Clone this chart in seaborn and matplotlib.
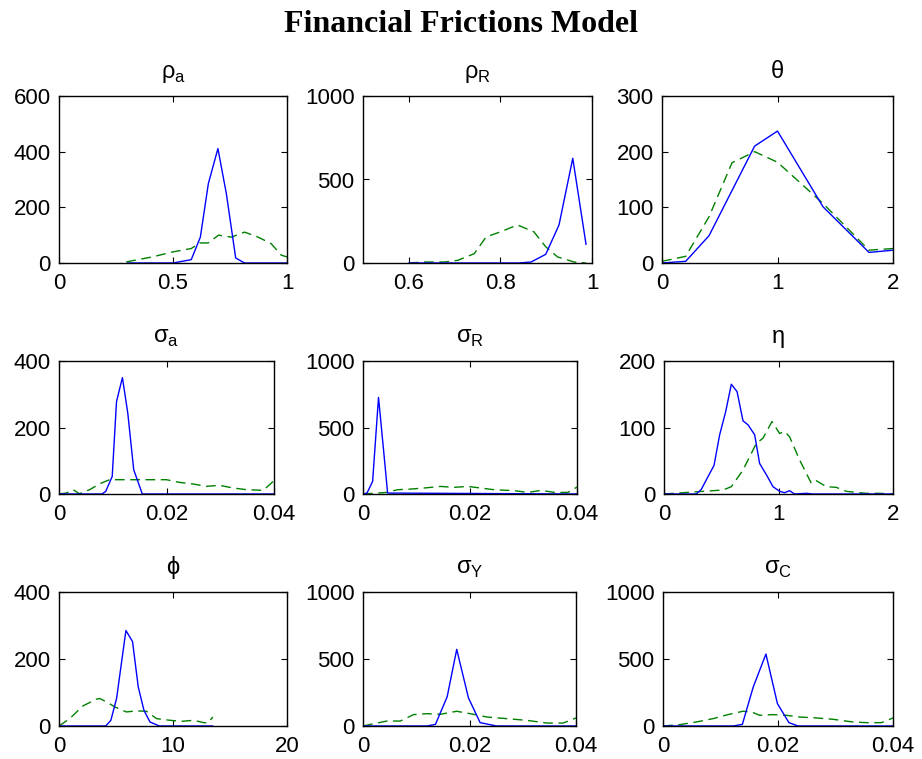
import numpy as np
import pandas as pd
import seaborn as sns
import matplotlib
matplotlib.use("Agg")
import matplotlib.pyplot as plt

# Posterior (blue, solid) and prior (green, dashed) densities
rho_a_post_x = [0.3, 0.5, 0.58, 0.62, 0.655, 0.697, 0.734, 0.775, 0.814, 1.0]
rho_a_post_y = [0, 0, 12, 93, 285, 411, 249, 18, 0, 0]
rho_a_prior_x = [0.295, 0.41, 0.5, 0.58, 0.617, 0.654, 0.7, 0.756, 0.814, 0.873, 0.93, 0.975, 1.0]
rho_a_prior_y = [4, 22, 40, 52, 72, 72, 100, 93, 111, 93, 70, 28, 22]

rho_r_post_x = [0.6, 0.84, 0.867, 0.899, 0.928, 0.958, 0.987]
rho_r_post_y = [0, 0, 6, 52, 228, 627, 111]
rho_r_prior_x = [0.6, 0.635, 0.678, 0.707, 0.743, 0.769, 0.801, 0.837, 0.873, 0.899, 0.925, 0.961, 0.987]
rho_r_prior_y = [0, 6, 6, 16, 56, 157, 187, 228, 187, 97, 36, 6, 0]

theta_post_x = [0, 0.205, 0.407, 0.802, 1.0, 1.394, 1.792, 2.0]
theta_post_y = [0, 3, 49, 210, 237, 101, 19, 23]
theta_prior_x = [0, 0.205, 0.407, 0.606, 0.802, 1.0, 1.394, 1.792, 2.0]
theta_prior_y = [3, 12, 83, 180, 200, 181, 107, 23, 26]

sig_a_post_x = [0, 0.008, 0.0087, 0.0099, 0.0107, 0.0118, 0.0128, 0.0139, 0.0155, 0.04]
sig_a_post_y = [0, 0, 8, 53, 278, 350, 243, 73, 0, 0]
sig_a_prior_x = [0, 0.0014, 0.0026, 0.0038, 0.0057, 0.0076, 0.0094, 0.0138, 0.0169, 0.02,
                 0.0224, 0.025, 0.0274, 0.0299, 0.0324, 0.0349, 0.038, 0.04]
sig_a_prior_y = [0, 3, 13, 1, 13, 31, 43, 43, 43, 43, 35, 30, 23, 26, 18, 13, 11, 40]

sig_r_post_x = [0, 0.00075, 0.0018, 0.0029, 0.0039, 0.0046, 0.04]
sig_r_post_y = [0, 7, 95, 726, 307, 7, 0]
sig_r_prior_x = [0, 0.0026, 0.0045, 0.0064, 0.0089, 0.0114, 0.0145, 0.017, 0.0195, 0.022,
                 0.0245, 0.0283, 0.0308, 0.0333, 0.0358, 0.0383, 0.04]
sig_r_prior_y = [0, 7, 12, 32, 37, 45, 57, 50, 57, 45, 32, 25, 12, 27, 12, 12, 52]

eta_post_x = [0, 0.282, 0.326, 0.384, 0.437, 0.486, 0.539, 0.588, 0.638, 0.69, 0.734, 0.792,
              0.835, 0.894, 0.952, 1.01, 1.054, 1.097, 1.14, 1.243, 1.3, 2.0]
eta_post_y = [0, 0, 7, 26, 43, 89, 124, 165, 154, 110, 104, 89, 46, 29, 11, 4, 2, 5, 0, 1, 0, 0]
eta_prior_x = [0, 0.515, 0.588, 0.69, 0.806, 0.865, 0.943, 1.01, 1.054, 1.097, 1.185, 1.287,
               1.33, 1.418, 1.505, 1.592, 1.767, 1.884, 2.0]
eta_prior_y = [0, 6, 11, 36, 76, 84, 109, 91, 94, 86, 51, 16, 20, 11, 10, 4, 1, 1, 0]

phi_post_x = [0, 4.1, 4.55, 5.05, 5.87, 6.45, 6.95, 7.45, 7.98, 8.8, 13.5]
phi_post_y = [0, 0, 17, 82, 285, 252, 117, 47, 12, 0, 0]
phi_prior_x = [0, 0.94, 2.1, 3.28, 3.58, 4.16, 4.9, 5.9, 6.8, 7.68, 8.56, 9.74, 10.76, 11.8,
               12.7, 13.05, 13.5]
phi_prior_y = [0, 22, 60, 80, 82, 72, 57, 42, 45, 44, 22, 17, 14, 17, 10, 9, 27]

sig_y_post_x = [0, 0.012, 0.0136, 0.0158, 0.0176, 0.0198, 0.022, 0.0251, 0.04]
sig_y_post_y = [0, 0, 12, 217, 572, 210, 25, 0, 0]
sig_y_prior_x = [0, 0.002, 0.0045, 0.007, 0.0095, 0.012, 0.0145, 0.0176, 0.0208, 0.0233,
                 0.027, 0.0308, 0.0345, 0.0376, 0.04]
sig_y_prior_y = [0, 17, 37, 37, 85, 92, 87, 110, 87, 67, 55, 42, 22, 22, 60]

sig_c_post_x = [0, 0.0122, 0.0138, 0.0157, 0.0179, 0.0199, 0.0219, 0.0235, 0.04]
sig_c_post_y = [0, 0, 12, 292, 537, 167, 25, 0, 0]
sig_c_prior_x = [0, 0.0029, 0.0058, 0.0087, 0.0113, 0.0139, 0.0154, 0.0168, 0.0191, 0.0214,
                 0.0238, 0.0267, 0.0296, 0.033, 0.0354, 0.038, 0.04]
sig_c_prior_y = [0, 10, 30, 55, 85, 110, 105, 80, 85, 80, 67, 60, 50, 30, 25, 25, 60]

titles = ["ρ$_\\mathregular{a}$", "ρ$_\\mathregular{R}$", "θ",
          "σ$_\\mathregular{a}$", "σ$_\\mathregular{R}$", "η",
          "ϕ", "σ$_\\mathregular{Y}$", "σ$_\\mathregular{C}$"]

x_ticks = [[0, 0.5, 1], [0.6, 0.8, 1], [0, 1, 2],
           [0, 0.02, 0.04], [0, 0.02, 0.04], [0, 1, 2],
           [0, 10, 20], [0, 0.02, 0.04], [0, 0.02, 0.04]]
x_labels = [["0", "0.5", "1"], ["0.6", "0.8", "1"], ["0", "1", "2"],
            ["0", "0.02", "0.04"], ["0", "0.02", "0.04"], ["0", "1", "2"],
            ["0", "10", "20"], ["0", "0.02", "0.04"], ["0", "0.02", "0.04"]]
y_ticks = [[0, 200, 400, 600], [0, 500, 1000], [0, 100, 200, 300],
           [0, 200, 400], [0, 500, 1000], [0, 100, 200],
           [0, 200, 400], [0, 500, 1000], [0, 500, 1000]]

posterior = [(rho_a_post_x, rho_a_post_y), (rho_r_post_x, rho_r_post_y), (theta_post_x, theta_post_y),
             (sig_a_post_x, sig_a_post_y), (sig_r_post_x, sig_r_post_y), (eta_post_x, eta_post_y),
             (phi_post_x, phi_post_y), (sig_y_post_x, sig_y_post_y), (sig_c_post_x, sig_c_post_y)]
prior = [(rho_a_prior_x, rho_a_prior_y), (rho_r_prior_x, rho_r_prior_y), (theta_prior_x, theta_prior_y),
         (sig_a_prior_x, sig_a_prior_y), (sig_r_prior_x, sig_r_prior_y), (eta_prior_x, eta_prior_y),
         (phi_prior_x, phi_prior_y), (sig_y_prior_x, sig_y_prior_y), (sig_c_prior_x, sig_c_prior_y)]

sns.set_style("white")
plt.rcParams["font.family"] = ["Liberation Sans", "DejaVu Sans"]
plt.rcParams["axes.edgecolor"] = "black"
plt.rcParams["axes.linewidth"] = 1.0
plt.rcParams["text.color"] = "black"
plt.rcParams["axes.labelcolor"] = "black"
plt.rcParams["xtick.color"] = "black"
plt.rcParams["ytick.color"] = "black"
plt.rcParams["xtick.direction"] = "in"
plt.rcParams["ytick.direction"] = "in"

W, H = 922, 759
fig = plt.figure(figsize=(W / 100, H / 100), dpi=100)

# axes boxes in pixels: left, right, top, bottom
boxes = [(59, 287, 96, 263), (363, 592, 96, 263), (662, 893, 96, 263),
         (59, 274, 361, 494), (363, 577, 361, 494), (664, 893, 361, 494),
         (59, 287, 592, 726), (363, 576, 592, 726), (663, 893, 592, 726)]

for i in range(9):
    l, r, t, b = boxes[i]
    ax = fig.add_axes([l / W, 1 - b / H, (r - l) / W, (b - t) / H])
    px, py = posterior[i]
    qx, qy = prior[i]
    df_post = pd.DataFrame({"x": px, "y": py})
    df_prior = pd.DataFrame({"x": qx, "y": qy})
    sns.lineplot(data=df_prior, x="x", y="y", ax=ax, color=(0, 0.5, 0),
                 linestyle=(0, (7, 4)), linewidth=1.0, estimator=None, sort=False)
    sns.lineplot(data=df_post, x="x", y="y", ax=ax, color=(0, 0, 1),
                 linewidth=1.0, estimator=None, sort=False)
    ax.set_xlim(x_ticks[i][0] if i != 1 else 0.5, x_ticks[i][-1])
    ax.set_ylim(y_ticks[i][0], y_ticks[i][-1])
    ax.set_xticks(x_ticks[i])
    ax.set_xticklabels(x_labels[i])
    ax.set_yticks(y_ticks[i])
    ax.set_xlabel("")
    ax.set_ylabel("")
    ax.tick_params(labelsize=16, length=4, width=0.8, top=True, right=True,
                   bottom=True, left=True, color="black", labelcolor="black")
    ax.tick_params(axis="x", pad=7)
    ax.tick_params(axis="y", pad=6)
    ax.set_title(titles[i], fontsize=17, pad=13, color="black")
    for s in ax.spines.values():
        s.set_visible(True)
        s.set_color("black")

fig.text(0.5, 1 - 25 / H, "Financial Frictions Model", ha="center", va="center",
         fontsize=23, fontweight="bold", color="black",
         family=["Liberation Serif", "DejaVu Serif"])

fig.savefig("out.png", dpi=100)
